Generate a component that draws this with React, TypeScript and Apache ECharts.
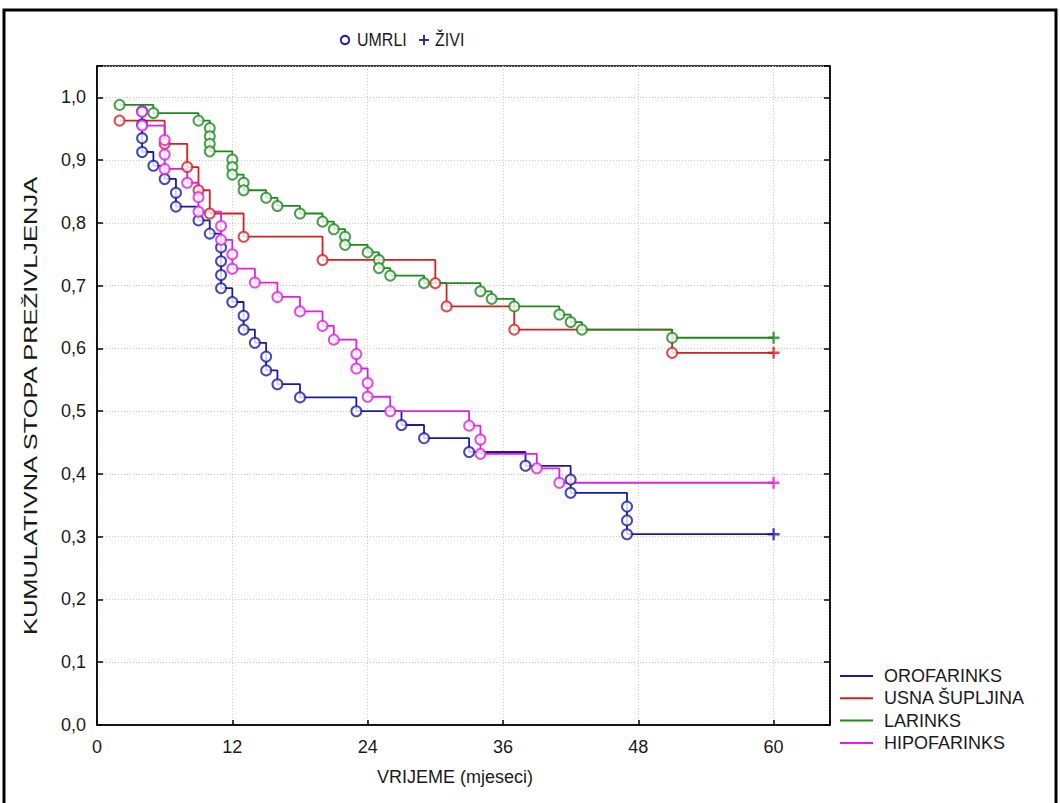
import React, { useEffect, useRef } from "react";
import * as echarts from "echarts";

// ---- data ----
const seriesNames = ["OROFARINKS", "USNA ŠUPLJINA", "LARINKS", "HIPOFARINKS"];
const xTicks = [0, 12, 24, 36, 48, 60];
const censorMonth = 60;

const oroTimes = [4, 4, 4, 4, 5, 6, 7, 7, 9, 10, 11, 11, 11, 11, 12, 13, 13, 14, 15, 15, 16, 18, 23, 27, 29, 33, 38, 42, 42, 47, 47, 47];
const oroSurv = [0.978, 0.957, 0.935, 0.913, 0.891, 0.870, 0.848, 0.826, 0.804, 0.783, 0.761, 0.739, 0.717, 0.696, 0.674, 0.652, 0.630, 0.609, 0.587, 0.565, 0.543, 0.522, 0.500, 0.478, 0.457, 0.435, 0.413, 0.391, 0.370, 0.348, 0.326, 0.304];

const usnaTimes = [2, 6, 8, 9, 10, 13, 20, 30, 31, 37, 51];
const usnaSurv = [0.963, 0.926, 0.889, 0.852, 0.815, 0.778, 0.741, 0.704, 0.667, 0.630, 0.593];

const larTimes = [2, 5, 9, 10, 10, 10, 10, 12, 12, 12, 13, 13, 15, 16, 18, 20, 21, 22, 22, 24, 25, 25, 26, 29, 34, 35, 37, 41, 42, 43, 51];
const larSurv = [0.988, 0.975, 0.963, 0.951, 0.938, 0.926, 0.914, 0.901, 0.889, 0.877, 0.864, 0.852, 0.840, 0.827, 0.815, 0.802, 0.790, 0.778, 0.765, 0.753, 0.741, 0.728, 0.716, 0.704, 0.691, 0.679, 0.667, 0.654, 0.642, 0.630, 0.617];

const hipoTimes = [4, 4, 6, 6, 6, 8, 9, 9, 11, 11, 12, 12, 14, 16, 18, 20, 21, 23, 23, 24, 24, 26, 33, 34, 34, 39, 41];
const hipoSurv = [0.977, 0.955, 0.932, 0.909, 0.886, 0.864, 0.841, 0.818, 0.795, 0.773, 0.750, 0.727, 0.705, 0.682, 0.659, 0.636, 0.614, 0.591, 0.568, 0.545, 0.523, 0.500, 0.477, 0.455, 0.432, 0.409, 0.386];

const groups = [
  { times: oroTimes, surv: oroSurv },
  { times: usnaTimes, surv: usnaSurv },
  { times: larTimes, surv: larSurv },
  { times: hipoTimes, surv: hipoSurv },
];

const colors = ["#1a1aa6", "#d42020", "#1e8a1e", "#e020e0"];
const FONT = '"Liberation Sans", Arial, sans-serif';
const TXT = "#1a1a1a";
const PLUS = "path://M4,0H6V4H10V6H6V10H4V6H0V4H4Z";

export default function App() {
  const ref = useRef<HTMLDivElement>(null);

  useEffect(() => {
    if (!ref.current) return;
    const chart = echarts.init(ref.current, null, { renderer: "svg" });

    const lineSeries: any[] = [];
    const eventSeries: any[] = [];
    const censorSeries: any[] = [];
    groups.forEach((g, i) => {
      const pts = g.times.map((t, k) => [t, g.surv[k]]);
      const last = g.surv[g.surv.length - 1];
      lineSeries.push({
        name: seriesNames[i],
        type: "line",
        step: "end",
        data: pts.concat([[censorMonth, last]]),
        symbol: "none",
        color: colors[i],
        itemStyle: { color: colors[i] },
        lineStyle: { color: colors[i], width: 1.8 },
        z: 2,
      });
      eventSeries.push({
        name: seriesNames[i] + " umrli",
        type: "scatter",
        data: pts,
        symbol: "circle",
        symbolSize: 10,
        itemStyle: { color: "#fff", borderColor: colors[i], borderWidth: 2 },
        z: 3,
      });
      censorSeries.push({
        name: seriesNames[i] + " živi",
        type: "scatter",
        data: [[censorMonth, last]],
        symbol: PLUS,
        symbolSize: 12,
        itemStyle: { color: colors[i] },
        z: 3,
      });
    });

    const option: any = {
      animation: false,
      backgroundColor: "#fff",
      textStyle: { fontFamily: FONT },
      grid: {
        left: 97,
        top: 66,
        width: 733,
        height: 659,
        show: true,
        borderColor: "#000",
        borderWidth: 1.5,
        backgroundColor: "transparent",
      },
      xAxis: {
        type: "value",
        min: 0,
        max: 65,
        interval: 12,
        axisLine: { show: true, lineStyle: { color: "#000", width: 1.5 } },
        axisTick: { show: true, inside: true, length: 5, lineStyle: { color: "#000", width: 1.5 } },
        axisLabel: {
          margin: 13,
          fontSize: 18,
          color: TXT,
          fontFamily: FONT,
          formatter: (v: number) => (xTicks.indexOf(v) >= 0 ? String(v) : ""),
        },
        splitLine: { show: true, lineStyle: { color: "#c8c8c8", type: [1, 2], width: 1 } },
      },
      yAxis: [
        {
          type: "value",
          min: 0,
          max: 1.05,
          interval: 0.1,
          axisLine: { show: true, lineStyle: { color: "#000", width: 1.5 } },
          axisTick: { show: true, inside: true, length: 6, lineStyle: { color: "#000", width: 1.5 } },
          axisLabel: {
            margin: 11,
            fontSize: 18,
            color: TXT,
            fontFamily: FONT,
            formatter: (v: number) => (v > 1.0001 ? "" : v.toFixed(1).replace(".", ",")),
          },
          splitLine: { show: true, lineStyle: { color: "#c8c8c8", type: [1, 2], width: 1 } },
        },
        {
          type: "value",
          position: "right",
          min: 0,
          max: 1.05,
          interval: 0.1,
          axisLine: { show: true, lineStyle: { color: "#000", width: 1.5 } },
          axisTick: { show: true, inside: true, length: 6, lineStyle: { color: "#000", width: 1.5 } },
          axisLabel: { show: false },
          splitLine: { show: false },
        },
      ],
      legend: {
        data: seriesNames,
        orient: "vertical",
        left: 840,
        top: 667,
        padding: 0,
        itemGap: 4.3,
        itemWidth: 33,
        itemHeight: 2,
        icon: "rect",
        selectedMode: false,
        textStyle: { fontSize: 18, lineHeight: 17, color: TXT, fontFamily: FONT, padding: [0, 0, 0, 6] },
      },
      graphic: [
        {
          type: "rect",
          shape: { x: 4, y: 10, width: 1052, height: 820 },
          style: { fill: "none", stroke: "#000", lineWidth: 3 },
          silent: true,
        },
        {
          type: "circle",
          shape: { cx: 345, cy: 40, r: 4.2 },
          style: { fill: "#fff", stroke: colors[0], lineWidth: 1.8 },
        },
        {
          type: "text",
          x: 357,
          y: 40,
          scaleY: 1.15,
          style: { text: "UMRLI", fontSize: 16, fontFamily: FONT, fill: TXT, textVerticalAlign: "middle" },
        },
        {
          type: "line",
          shape: { x1: 419, y1: 40, x2: 429, y2: 40 },
          style: { stroke: colors[0], lineWidth: 1.8 },
        },
        {
          type: "line",
          shape: { x1: 424, y1: 35, x2: 424, y2: 45 },
          style: { stroke: colors[0], lineWidth: 1.8 },
        },
        {
          type: "text",
          x: 435,
          y: 40,
          scaleY: 1.15,
          style: { text: "ŽIVI", fontSize: 16, fontFamily: FONT, fill: TXT, textVerticalAlign: "middle" },
        },
        {
          type: "text",
          x: 455,
          y: 777,
          style: {
            text: "VRIJEME (mjeseci)",
            fontSize: 18,
            fontFamily: FONT,
            fill: TXT,
            textAlign: "center",
            textVerticalAlign: "middle",
          },
        },
        {
          type: "text",
          x: 31,
          y: 406,
          rotation: Math.PI / 2,
          scaleX: 1.34,
          style: {
            text: "KUMULATIVNA STOPA PREŽIVLJENJA",
            fontSize: 19,
            fontFamily: FONT,
            fill: TXT,
            textAlign: "center",
            textVerticalAlign: "middle",
          },
        },
      ],
      series: [...lineSeries, ...eventSeries, ...censorSeries],
    };

    chart.setOption(option);
    return () => chart.dispose();
  }, []);

  return (
    <div
      ref={ref}
      style={{ position: "absolute", left: 0, top: 0, width: 1060, height: 803 }}
    />
  );
}
